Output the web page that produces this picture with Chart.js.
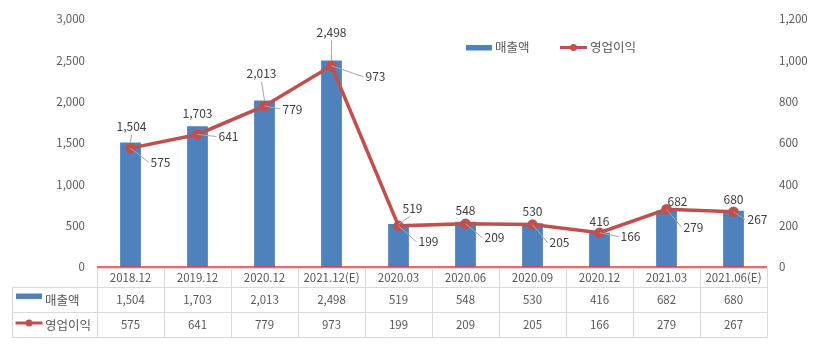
<!DOCTYPE html>
<html lang="ko">
<head>
<meta charset="utf-8">
<title>매출액 / 영업이익</title>
<script src="https://cdn.jsdelivr.net/npm/chart.js@4.4.1/dist/chart.umd.min.js"></script>
<style>
  html, body { margin: 0; padding: 0; background: #ffffff; }
  #wrap { width: 823px; height: 346px; }
</style>
</head>
<body>
<div id="wrap"><canvas id="chart" width="823" height="346"></canvas></div>
<script>
// Periods and the two series (억원)
const categories = ['2018.12', '2019.12', '2020.12', '2021.12(E)', '2020.03', '2020.06', '2020.09', '2020.12', '2021.03', '2021.06(E)'];
const sales = [1504, 1703, 2013, 2498, 519, 548, 530, 416, 682, 680];
const operatingProfit = [575, 641, 779, 973, 199, 209, 205, 166, 279, 267];
const seriesNames = ['매출액', '영업이익'];
const leftTicks = { min: 0, max: 3000, step: 500 };
const rightTicks = { min: 0, max: 1200, step: 200 };

const BAR_COLOR = '#4f81bd';
const LINE_COLOR = '#c0504d';
const TEXT_COLOR = '#595959';
const LABEL_COLOR = '#404040';
const GRID_COLOR = '#d9d9d9';
const LEADER_COLOR = '#a6a6a6';
const AXIS_RED = '#e8373a';
const FONT = "'Noto Sans CJK KR', 'Noto Sans', sans-serif";

Chart.defaults.font.family = FONT;
Chart.defaults.font.size = 11;
Chart.defaults.color = TEXT_COLOR;

const fmt = v => v.toLocaleString('en-US');

// Label placement around each mark: [dx, dy] of label centre, and whether a leader line is drawn
const barLabelPos = [[1, -16, true], [0, -12.5, false], [-3, -27, true], [0, -28, true], [14, -16, true],
                     [0, -11.5, false], [0, -12, false], [0, -11.5, false], [11, -9.5, false], [0, -11.5, false]];
const lineLabelPos = [[30, 14], [31, 2], [28, 3], [44, 11], [30, 16], [29, 14], [27, 18], [31, 4], [27, 18], [24, 8]];

const labelsPlugin = {
  id: 'valueLabels',
  afterDatasetsDraw(chart) {
    const ctx = chart.ctx;
    ctx.save();
    ctx.font = '12px ' + FONT;
    ctx.textAlign = 'center';
    ctx.textBaseline = 'middle';
    const barMeta = chart.getDatasetMeta(0);
    const lineMeta = chart.getDatasetMeta(1);

    ctx.strokeStyle = LEADER_COLOR;
    ctx.lineWidth = 1;
    barMeta.data.forEach((el, i) => {
      const [dx, dy, leader] = barLabelPos[i];
      const lx = el.x + dx, ly = el.y + dy;
      if (leader) {
        ctx.beginPath();
        ctx.moveTo(el.x, el.y);
        ctx.lineTo(lx - (dx > 5 ? 2 : 0), ly + 8);
        ctx.stroke();
      }
      ctx.fillStyle = LABEL_COLOR;
      ctx.fillText(fmt(sales[i]), lx, ly);
    });
    lineMeta.data.forEach((el, i) => {
      const [dx, dy] = lineLabelPos[i];
      const text = fmt(operatingProfit[i]);
      const lx = el.x + dx, ly = el.y + dy;
      const w = ctx.measureText(text).width;
      ctx.beginPath();
      ctx.moveTo(el.x, el.y);
      ctx.lineTo(lx - w / 2 - 2, ly);
      ctx.stroke();
      ctx.fillStyle = LABEL_COLOR;
      ctx.fillText(text, lx, ly);
    });
    ctx.restore();
  }
};

function drawBarKey(ctx, x, y) {
  ctx.fillStyle = BAR_COLOR;
  ctx.fillRect(x, y - 2.5, 26, 5.5);
}
function drawLineKey(ctx, x, y) {
  ctx.strokeStyle = LINE_COLOR;
  ctx.lineWidth = 3;
  ctx.beginPath();
  ctx.moveTo(x, y);
  ctx.lineTo(x + 27, y);
  ctx.stroke();
  ctx.fillStyle = LINE_COLOR;
  ctx.beginPath();
  ctx.arc(x + 13.5, y, 3.5, 0, Math.PI * 2);
  ctx.fill();
}

const tablePlugin = {
  id: 'dataTable',
  afterDraw(chart) {
    const ctx = chart.ctx;
    const area = chart.chartArea;
    const xs = chart.scales.x;
    const n = categories.length;
    const colW = (area.right - area.left) / n;
    const rows = [268.5, 287.5, 312.5, 337.5];
    const leftEdge = 12.5;

    ctx.save();
    // grid of the data table
    ctx.strokeStyle = GRID_COLOR;
    ctx.lineWidth = 1;
    ctx.beginPath();
    ctx.moveTo(area.left, rows[0]); ctx.lineTo(area.right, rows[0]);
    for (let r = 1; r < rows.length; r++) {
      ctx.moveTo(leftEdge, rows[r]); ctx.lineTo(area.right, rows[r]);
    }
    ctx.moveTo(leftEdge, rows[1]); ctx.lineTo(leftEdge, rows[3]);
    for (let i = 0; i <= n; i++) {
      const x = Math.round(area.left + i * colW) + 0.5;
      ctx.moveTo(x, rows[0]); ctx.lineTo(x, rows[3]);
    }
    ctx.stroke();

    // category axis line
    ctx.strokeStyle = AXIS_RED;
    ctx.lineWidth = 1.5;
    ctx.beginPath();
    ctx.moveTo(area.left, area.bottom);
    ctx.lineTo(area.right, area.bottom);
    ctx.stroke();

    // cell texts
    ctx.fillStyle = TEXT_COLOR;
    ctx.font = '11.5px ' + FONT;
    ctx.textAlign = 'center';
    ctx.textBaseline = 'middle';
    categories.forEach((c, i) => {
      const cx = xs.getPixelForValue(i);
      ctx.fillText(c, cx, (rows[0] + rows[1]) / 2);
      ctx.fillText(fmt(sales[i]), cx, (rows[1] + rows[2]) / 2);
      ctx.fillText(fmt(operatingProfit[i]), cx, (rows[2] + rows[3]) / 2);
    });

    // series keys in the first column
    const y1 = (rows[1] + rows[2]) / 2, y2 = (rows[2] + rows[3]) / 2;
    drawBarKey(ctx, 16, y1 - 4);
    drawLineKey(ctx, 15.5, y2 - 2);
    ctx.fillStyle = TEXT_COLOR;
    ctx.font = '12.5px ' + FONT;
    ctx.textAlign = 'left';
    ctx.fillText(seriesNames[0], 45, y1);
    ctx.fillText(seriesNames[1], 45, y2);

    // legend at the top
    drawBarKey(ctx, 466, 47.5);
    drawLineKey(ctx, 560, 47.5);
    ctx.fillStyle = TEXT_COLOR;
    ctx.fillText(seriesNames[0], 495, 47.5);
    ctx.fillText(seriesNames[1], 590, 47.5);
    ctx.restore();
  }
};

new Chart(document.getElementById('chart'), {
  data: {
    labels: categories,
    datasets: [
      {
        type: 'bar',
        label: seriesNames[0],
        data: sales,
        backgroundColor: BAR_COLOR,
        yAxisID: 'y',
        categoryPercentage: 0.31,
        barPercentage: 1,
        order: 2
      },
      {
        type: 'line',
        label: seriesNames[1],
        data: operatingProfit,
        borderColor: LINE_COLOR,
        backgroundColor: LINE_COLOR,
        borderWidth: 3.5,
        pointRadius: 3.5,
        pointBackgroundColor: LINE_COLOR,
        pointBorderColor: LINE_COLOR,
        tension: 0,
        yAxisID: 'y1',
        order: 1
      }
    ]
  },
  options: {
    responsive: false,
    animation: false,
    layout: { padding: { top: 18, bottom: 79, left: 0, right: 0 } },
    plugins: { legend: { display: false }, tooltip: { enabled: false } },
    scales: {
      x: { type: 'category', display: false, offset: true },
      y: {
        position: 'left',
        min: leftTicks.min, max: leftTicks.max,
        ticks: { stepSize: leftTicks.step, padding: 12, color: TEXT_COLOR, font: { size: 11.5 } },
        grid: { display: false, drawTicks: false },
        border: { display: false },
        afterFit(scale) { scale.width = 97; }
      },
      y1: {
        position: 'right',
        min: rightTicks.min, max: rightTicks.max,
        ticks: { stepSize: rightTicks.step, padding: 12, color: TEXT_COLOR, font: { size: 11.5 } },
        grid: { display: false, drawTicks: false },
        border: { display: false },
        afterFit(scale) { scale.width = 56; }
      }
    }
  },
  plugins: [labelsPlugin, tablePlugin]
});
</script>
</body>
</html>
